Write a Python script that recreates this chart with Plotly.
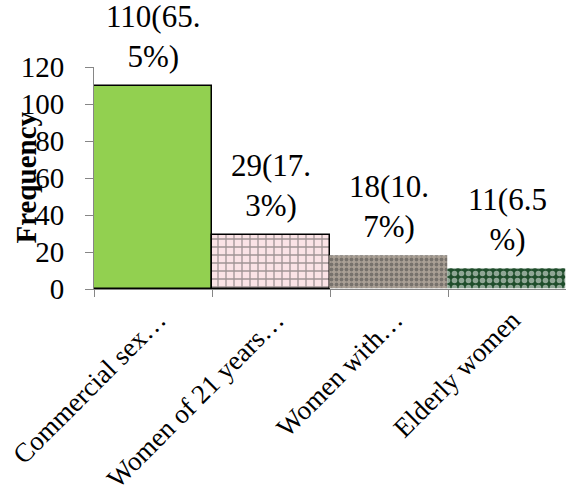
import plotly.graph_objects as go

# Groups and their counts / shares
categories = ["Commercial sex…", "Women of 21 years…", "Women with…", "Elderly women"]
counts = [110, 29, 18, 11]
percents = ["65.5", "17.3", "10.7", "6.5"]
wrap_at = [7, 6, 6, 6]  # characters on the first line of each label

y_ticks = [0, 20, 40, 60, 80, 100, 120]

FONT = "Liberation Serif"

fig = go.Figure()
fig.add_trace(go.Bar(
    x=categories,
    y=counts,
    marker=dict(
        color=["#92d050", "#fbe3e6", "#aaa095", "#1f4d2b"],
        line=dict(color=["#000000", "#000000", "rgba(0,0,0,0)", "rgba(0,0,0,0)"], width=1.5),
        pattern=dict(
            shape=["", "+", ".", "."],
            fgcolor=["#92d050", "#a3222c", "#c9c0b5", "#2e6a3b"],
            size=[8, 8, 5, 7],
            solidity=[0.2, 0.3, 0.45, 0.5],
            fillmode="overlay",
        ),
    ),
    hoverinfo="skip",
))

# value labels above each bar, wrapped onto two lines
for cat, n, p, w in zip(categories, counts, percents, wrap_at):
    full = f"{n}({p}%)"
    txt = full[:w] + "<br>" + full[w:]
    fig.add_annotation(
        x=cat, y=n, xref="x", yref="y",
        text=txt, showarrow=False,
        xanchor="center", yanchor="bottom", yshift=10,
        font=dict(family=FONT, size=31, color="#000000"),
    )

# slanted category labels, each ending just right of its category centre
for cat in categories:
    fig.add_annotation(
        x=cat, y=0, xref="x", yref="paper",
        text=cat, textangle=-45, showarrow=False,
        xanchor="right", yanchor="top", xshift=22, yshift=-13,
        font=dict(family=FONT, size=27, color="#000000"),
    )

# rotated axis title sitting over the tick labels
fig.add_annotation(
    x=-0.145, y=0.5, xref="paper", yref="paper",
    text="<b>Frequency</b>", textangle=-90, showarrow=False,
    xanchor="center", yanchor="middle",
    font=dict(family=FONT, size=29, color="#000000"),
)

fig.update_layout(
    width=566, height=495,
    margin=dict(l=94, r=0, t=67, b=206),
    paper_bgcolor="#ffffff", plot_bgcolor="#ffffff",
    bargap=0,
    showlegend=False,
    font=dict(family=FONT, size=28, color="#000000"),
)
fig.update_xaxes(
    range=[-0.5, len(categories) - 0.5],
    showline=True, linecolor="#868686", linewidth=1,
    ticks="outside", tickson="boundaries", ticklen=7, tickcolor="#868686",
    showticklabels=False, showgrid=False, automargin=False,
)
fig.update_yaxes(
    range=[0, 120], tickvals=y_ticks, showline=True, linecolor="#868686", linewidth=1,
    ticks="outside", ticklen=8, tickcolor="#868686", showgrid=False, zeroline=False,
    ticklabelstandoff=15, automargin=False,
    tickfont=dict(family=FONT, size=29, color="#000000"),
)

fig.write_html("out.html")
